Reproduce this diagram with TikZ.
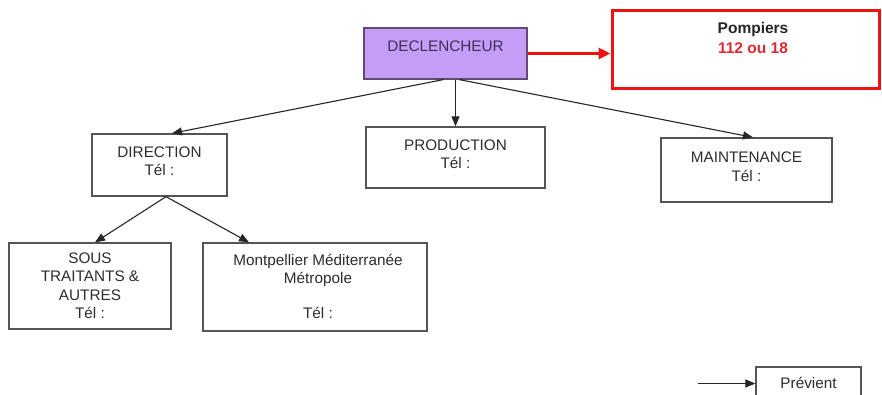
\documentclass[tikz,border=0pt]{standalone}
\usepackage{fontspec}
\setmainfont{Liberation Sans}
\usetikzlibrary{arrows.meta}
\definecolor{boxline}{RGB}{85,85,85}
\definecolor{ink}{RGB}{45,45,45}
\definecolor{lavender}{RGB}{196,158,246}
\definecolor{lavline}{RGB}{95,75,115}
\definecolor{lavink}{RGB}{65,45,90}
\definecolor{alarm}{RGB}{236,18,22}
\definecolor{alarmtext}{RGB}{222,40,52}
\begin{document}
\begin{tikzpicture}[x=1pt,y=-1pt,
  box/.style={draw=boxline, line width=1.3pt, inner sep=0pt, fill=white},
  lbl/.style={font=\fontsize{15.3}{18.5}\selectfont, text=ink, align=center, inner sep=0pt},
  link/.style={draw=black!85, line width=1.1pt, -{Triangle[length=10pt,width=8pt]}},
  alert/.style={draw=alarm, line width=3pt, -{Triangle[length=12pt,width=11pt]}},
]
\useasboundingbox (0,0) rectangle (882,394);

% boxes
\node[box, fill=lavender, draw=lavline, minimum width=163pt, minimum height=51pt] (dec) at (445.5,53.5) {};
\node[box, draw=alarm, line width=3pt, minimum width=267pt, minimum height=78pt] (pomp) at (745.5,49) {};
\node[box, minimum width=135pt, minimum height=62pt] (dir) at (159.5,165) {};
\node[box, minimum width=179pt, minimum height=61pt] (prod) at (455.5,157.5) {};
\node[box, minimum width=171pt, minimum height=64pt] (maint) at (746.5,170) {};
\node[box, minimum width=162pt, minimum height=86pt] (sous) at (90,286) {};
\node[box, minimum width=224pt, minimum height=88pt] (mmm) at (315,287) {};
\node[box, minimum width=105pt, minimum height=33pt] (prev) at (808.5,383.5) {};

% texts
\node[lbl, text=lavink] (dect) at (445.5,46) {DECLENCHEUR};
\node[lbl, font=\fontsize{15.5}{20}\selectfont\bfseries, text=black!85] (pompt) at (753,38) {Pompiers\\\textcolor{alarmtext}{112 ou 18}};
\node[lbl] (dirt) at (159.5,161) {DIRECTION\\Tél :};
\node[lbl] (prodt) at (455.5,154) {PRODUCTION\\Tél :};
\node[lbl] (maintt) at (746.5,166.5) {MAINTENANCE\\Tél :};
\node[lbl] (soust) at (90,285.5) {SOUS\\TRAITANTS \&\\AUTRES\\Tél :};
\node[lbl] (mmmt) at (318,286.5) {Montpellier Méditerranée\\Métropole\\[16.5pt]Tél :};
\node[lbl] (prevt) at (808.5,383) {Prévient};

% connectors
\draw[alert] (dec.east) -- (dec.east -| pomp.west);
\draw[link] ([xshift=-2.5pt]dec.south) -- ([xshift=12.5pt]dir.north);
\draw[link] (dec.south -| prod.north) -- (prod.north);
\draw[link] ([xshift=14pt]dec.south) -- ([xshift=6.5pt]maint.north);
\draw[link] ([xshift=6.5pt]dir.south) -- ([xshift=5pt]sous.north);
\draw[link] ([xshift=6.5pt]dir.south) -- ([xshift=-66pt]mmm.north);

% legend
\coordinate (legtail) at (698,383.5);
\draw[link] (legtail) -- (prev.west);
\end{tikzpicture}
\end{document}
